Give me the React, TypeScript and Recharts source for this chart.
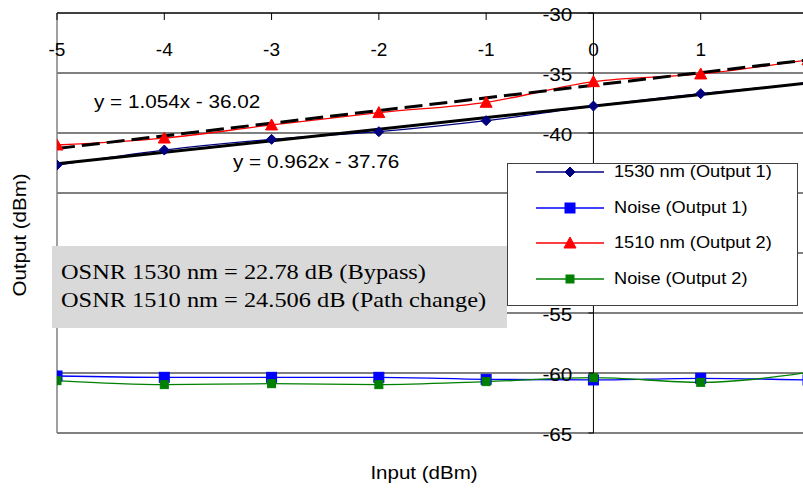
import React from 'react';
import { LineChart, Line, XAxis, YAxis, CartesianGrid, ReferenceLine } from 'recharts';

// ---- data ----
const inputs = [-5, -4, -3, -2, -1, 0, 1, 2];
const signal1530 = [-42.67, -41.42, -40.53, -39.89, -38.97, -37.75, -36.72, -35.85];
const noiseOut1 = [-60.25, -60.36, -60.36, -60.36, -60.53, -60.58, -60.44, -60.58];
const signal1510 = [-41.0, -40.42, -39.33, -38.3, -37.44, -35.72, -35.08, -33.9];
const noiseOut2 = [-60.64, -60.97, -60.89, -60.97, -60.72, -60.39, -60.78, -59.95];
const xTicks = [-5, -4, -3, -2, -1, 0, 1];
const yTicks = [-65, -60, -55, -50, -45, -40, -35, -30];
const trendSlopes = [0.962, 1.054];
const trendIntercepts = [-37.76, -36.02];
const trendLabels = ['y = 0.962x - 37.76', 'y = 1.054x - 36.02'];
const seriesNames = ['1530 nm (Output 1)', 'Noise (Output 1)', '1510 nm (Output 2)', 'Noise (Output 2)'];
const osnrLines = ['OSNR 1530 nm = 22.78 dB (Bypass)', 'OSNR 1510 nm = 24.506 dB (Path change)'];

const rows = inputs.map((x, i) => ({
  x,
  s1530: signal1530[i],
  n1: noiseOut1[i],
  s1510: signal1510[i],
  n2: noiseOut2[i],
}));

const XMIN = -5;
const XMAX = 2;
const trendData = (k: number) =>
  [XMIN, XMAX].map((x) => ({ x, t: trendSlopes[k] * x + trendIntercepts[k] }));

// ---- layout ----
const CHART_W = 810;
const CHART_H = 489;
const MARGIN = { top: 12, right: 2, bottom: 56, left: 56 };
const PLOT_LEFT = 57;
const PLOT_W = CHART_W - PLOT_LEFT - MARGIN.right;
const Y_AXIS_X = PLOT_LEFT + ((0 - XMIN) / (XMAX - XMIN)) * PLOT_W;
const SANS = '"Liberation Sans", Arial, sans-serif';
const SERIF = '"Liberation Serif", "Times New Roman", serif';

const NAVY = '#000080';
const BLUE = '#0000FF';
const RED = '#FF0000';
const GREEN = '#008000';

const renderXTick = (props: any) => {
  const { x, payload, index } = props;
  return (
    <g key={`xt-${index}`}>
      <line x1={x} x2={x} y1={13} y2={20} stroke="#000" strokeWidth={1} />
      <text x={x} y={49} textAnchor="middle" dominantBaseline="central" fontSize={19} fontFamily={SANS} fill="#000">
        {payload.value}
      </text>
    </g>
  );
};

const renderYTick = (props: any) => {
  const { y, payload, index } = props;
  return (
    <g key={`yt-${index}`}>
      <line x1={Y_AXIS_X - 5} x2={Y_AXIS_X} y1={y} y2={y} stroke="#000" strokeWidth={1} />
      <text x={Y_AXIS_X - 21} y={y + 1} textAnchor="end" dominantBaseline="central" fontSize={19} fontFamily={SANS} fill="#000" textLength={payload.value === 0 ? undefined : 30} lengthAdjust="spacingAndGlyphs">
        {payload.value}
      </text>
    </g>
  );
};

const Diamond = ({ cx, cy, color, s = 5 }: any) => (
  <polygon points={`${cx},${cy - s} ${cx + s},${cy} ${cx},${cy + s} ${cx - s},${cy}`} fill={color} stroke={color} />
);
const Square = ({ cx, cy, color, s = 4 }: any) => (
  <rect x={cx - s} y={cy - s} width={2 * s} height={2 * s} fill={color} stroke={color} />
);
const Triangle = ({ cx, cy, color, s = 5 }: any) => (
  <polygon points={`${cx},${cy - s} ${cx + s},${cy + s - 1} ${cx - s},${cy + s - 1}`} fill={color} stroke={color} />
);

const mk = (Shape: any, color: string, s?: number) => (p: any) =>
  p.cx == null ? <g key={`${color}-${p.index}`} /> : <Shape key={`${color}-${p.index}`} cx={p.cx} cy={p.cy} color={color} s={s} />;

const legendDefs = [
  { color: NAVY, Shape: Diamond, s: 5 },
  { color: BLUE, Shape: Square, s: 5 },
  { color: RED, Shape: Triangle, s: 6 },
  { color: GREEN, Shape: Square, s: 4 },
];

export default function App() {
  return (
    <div style={{ position: 'fixed', left: 0, top: 0, width: 803, height: 489, overflow: 'hidden', background: '#fff' }}>
      <LineChart width={CHART_W} height={CHART_H} data={rows} margin={MARGIN}>
        <CartesianGrid vertical={false} stroke="#000" strokeWidth={1} />
        <XAxis
          type="number"
          dataKey="x"
          domain={[XMIN, XMAX]}
          ticks={xTicks}
          interval={0}
          orientation="top"
          height={1}
          axisLine={{ stroke: '#000' }}
          tickLine={false}
          tick={renderXTick}
          allowDataOverflow
        />
        <YAxis
          type="number"
          domain={[-65, -30]}
          ticks={yTicks}
          interval={0}
          width={1}
          axisLine={false}
          tickLine={false}
          tick={renderYTick}
          allowDataOverflow
        />
        <ReferenceLine y={-65} stroke="#808080" strokeWidth={1.5} />
        <ReferenceLine x={XMIN} stroke="#808080" strokeWidth={1.5} />
        <ReferenceLine x={0} stroke="#000" strokeWidth={1} />
        <Line type="monotone" dataKey="n1" stroke={BLUE} strokeWidth={1.3} dot={mk(Square, BLUE, 5)} isAnimationActive={false} />
        <Line type="monotone" dataKey="n2" stroke={GREEN} strokeWidth={1.3} dot={mk(Square, GREEN, 4)} isAnimationActive={false} />
        <Line type="monotone" dataKey="s1530" stroke={NAVY} strokeWidth={1.3} dot={mk(Diamond, NAVY, 5)} isAnimationActive={false} />
        <Line type="monotone" dataKey="s1510" stroke={RED} strokeWidth={1.3} dot={mk(Triangle, RED, 6)} isAnimationActive={false} />
        <Line data={trendData(0)} type="linear" dataKey="t" stroke="#000" strokeWidth={3} dot={false} isAnimationActive={false} legendType="none" />
        <Line data={trendData(1)} type="linear" dataKey="t" stroke="#000" strokeWidth={3} strokeDasharray="18 7" dot={false} isAnimationActive={false} legendType="none" />
      </LineChart>

      {/* trendline equations */}
      <div style={{ position: 'absolute', left: 94, top: 92, fontFamily: SANS, fontSize: 18, whiteSpace: 'nowrap', color: '#000', transform: 'scaleX(1.15)', transformOrigin: 'left' }}>
        {trendLabels[1]}
      </div>
      <div style={{ position: 'absolute', left: 233, top: 152, fontFamily: SANS, fontSize: 18, whiteSpace: 'nowrap', color: '#000', transform: 'scaleX(1.15)', transformOrigin: 'left' }}>
        {trendLabels[0]}
      </div>

      {/* OSNR box */}
      <div style={{ position: 'absolute', left: 52, top: 246, width: 455, height: 82, background: '#d9d9d9' }}>
        {osnrLines.map((t, i) => (
          <div key={i} style={{ position: 'absolute', left: 9, top: 14 + i * 28, fontFamily: SERIF, fontSize: 21, lineHeight: '24px', whiteSpace: 'nowrap', color: '#000', transform: 'scaleX(1.16)', transformOrigin: 'left' }}>
            {t}
          </div>
        ))}
      </div>

      {/* legend */}
      <div style={{ position: 'absolute', left: 507, top: 163, width: 289, height: 141, background: '#fff', border: '1px solid #404040' }}>
        {seriesNames.map((name, i) => {
          const d = legendDefs[i];
          const S = d.Shape;
          return (
            <div key={name} style={{ position: 'absolute', left: 27, top: 8 + i * 35.7 - 11, height: 22, display: 'flex', alignItems: 'center' }}>
              <svg width={70} height={22} style={{ display: 'block' }}>
                <line x1={1} x2={69} y1={11} y2={11} stroke={d.color} strokeWidth={1.3} />
                <S cx={35} cy={11} color={d.color} s={d.s} />
              </svg>
              <span style={{ marginLeft: 9, fontFamily: SANS, fontSize: 17, whiteSpace: 'nowrap', color: '#000', transform: 'scaleX(1.07)', transformOrigin: 'left', display: 'inline-block' }}>
                {name}
              </span>
            </div>
          );
        })}
      </div>

      {/* axis titles */}
      <div style={{ position: 'absolute', left: 20, top: 235, transform: 'translate(-50%, -50%) rotate(-90deg) scaleX(1.08)', fontFamily: SANS, fontSize: 19, whiteSpace: 'nowrap', color: '#000' }}>
        Output (dBm)
      </div>
      <div style={{ position: 'absolute', left: 424, top: 473, transform: 'translate(-50%, -50%) scaleX(1.08)', fontFamily: SANS, fontSize: 19, whiteSpace: 'nowrap', color: '#000' }}>
        Input (dBm)
      </div>
    </div>
  );
}
